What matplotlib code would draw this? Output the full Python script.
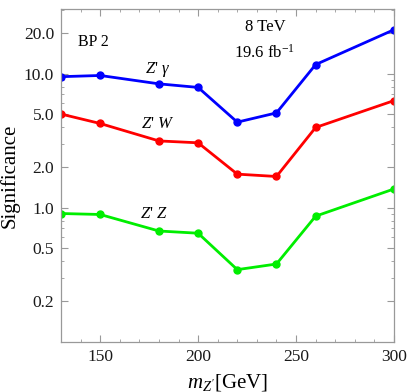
import matplotlib
matplotlib.use("Agg")
import matplotlib.pyplot as plt
from matplotlib.ticker import FixedLocator, FixedFormatter, MultipleLocator, NullFormatter

plt.rcParams['font.family'] = ['Liberation Serif', 'DejaVu Serif']
plt.rcParams['mathtext.fontset'] = 'custom'
plt.rcParams['mathtext.rm'] = 'Liberation Serif'
plt.rcParams['mathtext.it'] = 'Liberation Serif:italic'

masses = [130, 150, 180, 200, 220, 240, 260, 300]
sig_gamma = [9.5, 9.7, 8.4, 7.9, 4.35, 5.1, 11.7, 21.3]
sig_W = [5.0, 4.25, 3.15, 3.05, 1.78, 1.71, 3.97, 6.3]
sig_Z = [0.905, 0.89, 0.67, 0.645, 0.345, 0.38, 0.865, 1.38]

y_major = [0.2, 0.5, 1.0, 2.0, 5.0, 10.0, 20.0]
y_labels = ["0.2", "0.5", "1.0", "2.0", "5.0", "10.0", "20.0"]
y_minor = [0.1, 0.3, 0.4, 0.6, 0.7, 0.8, 0.9, 3, 4, 6, 7, 8, 9, 30]
x_major = [150, 200, 250, 300]

fig = plt.figure(figsize=(4.09, 3.92), dpi=100)
ax = fig.add_axes([61/409, 1-341.7/392, (394-61)/409, (341.7-9)/392])

ax.plot(masses, sig_gamma, color='#0000ff', lw=2, marker='o', ms=5)
ax.plot(masses, sig_W, color='#ff0000', lw=2, marker='o', ms=5)
ax.plot(masses, sig_Z, color='#00ee00', lw=2, marker='o', ms=5)

ax.set_yscale('log')
ax.set_xlim(130, 300)
ax.set_ylim(0.1, 30.4)

ax.yaxis.set_major_locator(FixedLocator(y_major))
ax.yaxis.set_major_formatter(FixedFormatter(y_labels))
ax.yaxis.set_minor_locator(FixedLocator(y_minor))
ax.yaxis.set_minor_formatter(NullFormatter())
ax.xaxis.set_major_locator(FixedLocator(x_major))
ax.xaxis.set_minor_locator(MultipleLocator(10))

for sp in ax.spines.values():
    sp.set_color('#999999')
    sp.set_linewidth(0.9)

ax.tick_params(which='both', direction='in', top=True, right=True, color='#999999',
               labelsize=12.5, labelcolor='#1a1a1a')
ax.tick_params(which='major', length=5, width=0.8, pad=5)
ax.tick_params(which='minor', length=2.5, width=0.6)

ax.set_ylabel("Significance", fontsize=15, va='center')
ax.yaxis.set_label_coords(-0.155, 0.5)
ax.set_xlabel(r"$m_{Z^{\prime}}$[GeV]", fontsize=15, labelpad=5)

ax.text(0.05, 0.90, "BP 2", fontsize=11.5, ha='left', va='center', transform=ax.transAxes)
ax.text(0.615, 0.947, "8 TeV", fontsize=12, ha='center', va='center', transform=ax.transAxes)
ax.text(0.61, 0.87, r"19.6 fb$^{-1}$", fontsize=12, ha='center', va='center', transform=ax.transAxes)

ax.text(0.29, 0.818, r"$Z$' $\gamma$", fontsize=12, ha='center', va='center', transform=ax.transAxes)
ax.text(0.29, 0.655, r"$Z$' $W$", fontsize=12, ha='center', va='center', transform=ax.transAxes)
ax.text(0.28, 0.385, r"$Z$' $Z$", fontsize=12, ha='center', va='center', transform=ax.transAxes)

fig.savefig("out.png", dpi=100)
